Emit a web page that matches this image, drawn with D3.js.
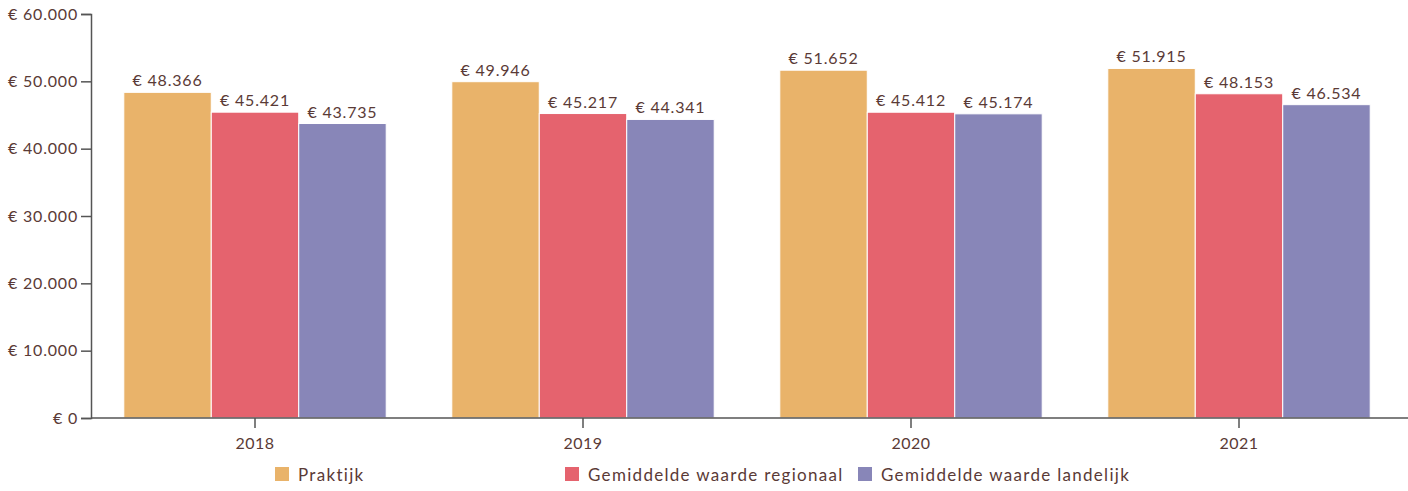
<!DOCTYPE html>
<html><head><meta charset="utf-8">
<script src="https://cdn.jsdelivr.net/npm/d3@7"></script>
<style>body{margin:0;background:#fff}svg{display:block}text{font-family:Lato,"Noto Sans",sans-serif;fill:#5a3a36}</style>
</head><body><svg id="c" width="1408" height="491"></svg>
<script>
const years = ["2018","2019","2020","2021"];
const seriesNames = ["Praktijk","Gemiddelde waarde regionaal","Gemiddelde waarde landelijk"];
const praktijk = [48366,49946,51652,51915];
const regionaal = [45421,45217,45412,48153];
const landelijk = [43735,44341,45174,46534];
const yTicks = [0,10000,20000,30000,40000,50000,60000];
const colors = ["#e9b36a","#e5636e","#8886b8"];

const svg = d3.select("#c");
const x = d3.scaleBand().domain(years).range([91,1403]).paddingInner(0).paddingOuter(0);
const inner = d3.scaleBand().domain(d3.range(3)).range([x.bandwidth()*0.1, x.bandwidth()*0.9]);
const y = d3.scaleLinear().domain([0,60000]).range([418,14]);
const fmt = v => "€ " + d3.format(",")(v).replace(/,/g,".");
const series = [praktijk,regionaal,landelijk];

const g = svg.append("g");
years.forEach((yr,i)=>{
  series.forEach((s,j)=>{
    const bx = x(yr)+inner(j);
    g.append("rect").attr("x",bx).attr("y",y(s[i])).attr("width",inner.bandwidth()).attr("height",y(0)-y(s[i]))
      .attr("fill",colors[j]).attr("stroke","#fff").attr("stroke-width",1);
    g.append("text").attr("x",bx+inner.bandwidth()/2).attr("y",y(s[i])-6).attr("text-anchor","middle")
      .attr("font-size",16).attr("letter-spacing",0.8).text(fmt(s[i]));
  });
});

const yAxis = svg.append("g").attr("transform","translate(91,0)")
  .call(d3.axisLeft(y).tickValues(yTicks).tickFormat(fmt).tickSizeOuter(0).tickSize(10).tickPadding(3));
yAxis.selectAll("text").attr("font-size",16).attr("letter-spacing",0.8);
const xAxis = svg.append("g").attr("transform","translate(0,418)")
  .call(d3.axisBottom(x).tickSizeOuter(0).tickSize(10).tickPadding(10));
xAxis.select(".domain").attr("d","M91,0H1408");
xAxis.selectAll("text").attr("font-size",16).attr("letter-spacing",0.5);
svg.selectAll(".domain,.tick line").attr("stroke","#555").attr("stroke-width",1.5);

const legX = [275,565,858];
const leg = svg.append("g");
seriesNames.forEach((n,j)=>{
  leg.append("rect").attr("x",legX[j]).attr("y",467).attr("width",14).attr("height",14).attr("fill",colors[j]);
  leg.append("text").attr("x",legX[j]+23).attr("y",481).attr("font-size",17).attr("letter-spacing",1.3).text(n);
});
</script></body></html>
